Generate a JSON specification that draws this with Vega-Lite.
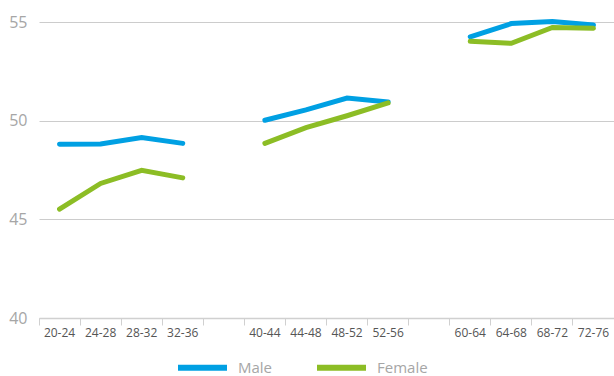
{
  "$schema": "https://vega.github.io/schema/vega-lite/v6.json",
  "width": 575,
  "height": 296,
  "autosize": "none",
  "padding": {"left": 39, "top": 22, "right": 0, "bottom": 58},
  "background": "white",
  "config": {"view": {"stroke": null}, "font": "Open Sans"},
  "data": {"values": [
    {"age": "20-24", "sex": "Male", "group": "a", "v": 48.8},
    {"age": "24-28", "sex": "Male", "group": "a", "v": 48.82},
    {"age": "28-32", "sex": "Male", "group": "a", "v": 49.15},
    {"age": "32-36", "sex": "Male", "group": "a", "v": 48.85},
    {"age": "40-44", "sex": "Male", "group": "b", "v": 50.02},
    {"age": "44-48", "sex": "Male", "group": "b", "v": 50.55},
    {"age": "48-52", "sex": "Male", "group": "b", "v": 51.15},
    {"age": "52-56", "sex": "Male", "group": "b", "v": 50.95},
    {"age": "60-64", "sex": "Male", "group": "c", "v": 54.25},
    {"age": "64-68", "sex": "Male", "group": "c", "v": 54.92},
    {"age": "68-72", "sex": "Male", "group": "c", "v": 55.02},
    {"age": "72-76", "sex": "Male", "group": "c", "v": 54.85},
    {"age": "20-24", "sex": "Female", "group": "a", "v": 45.52},
    {"age": "24-28", "sex": "Female", "group": "a", "v": 46.82},
    {"age": "28-32", "sex": "Female", "group": "a", "v": 47.48},
    {"age": "32-36", "sex": "Female", "group": "a", "v": 47.1},
    {"age": "40-44", "sex": "Female", "group": "b", "v": 48.85},
    {"age": "44-48", "sex": "Female", "group": "b", "v": 49.65},
    {"age": "48-52", "sex": "Female", "group": "b", "v": 50.25},
    {"age": "52-56", "sex": "Female", "group": "b", "v": 50.9},
    {"age": "60-64", "sex": "Female", "group": "c", "v": 54.02},
    {"age": "64-68", "sex": "Female", "group": "c", "v": 53.92},
    {"age": "68-72", "sex": "Female", "group": "c", "v": 54.72},
    {"age": "72-76", "sex": "Female", "group": "c", "v": 54.68}
  ]},
  "mark": {"type": "line", "strokeWidth": 5, "strokeCap": "round"},
  "encoding": {
    "x": {
      "field": "age", "type": "nominal", "bandPosition": 0.5,
      "scale": {"type": "band", "paddingInner": 0, "paddingOuter": 0,
        "domain": ["20-24", "24-28", "28-32", "32-36", "gap1", "40-44", "44-48", "48-52", "52-56", "gap2", "60-64", "64-68", "68-72", "72-76"]},
      "axis": {
        "title": null, "labelAngle": 0, "bandPosition": 0,
        "labelExpr": "indexof(datum.value, 'gap') == 0 ? '' : datum.value",
        "domainColor": "#d0d0d0", "domainWidth": 1.5, "tickColor": "#d0d0d0", "tickSize": 7,
        "labelColor": "#555555", "labelFontSize": 12, "labelPadding": 2, "grid": false
      }
    },
    "y": {
      "field": "v", "type": "quantitative",
      "scale": {"domain": [40, 55], "nice": false, "zero": false},
      "axis": {
        "title": null, "values": [40, 45, 50, 55], "domain": false, "ticks": false,
        "labelColor": "#a6a6a6", "labelFontSize": 16, "labelPadding": 12,
        "gridColor": "#cccccc", "gridWidth": 1
      }
    },
    "color": {
      "field": "sex", "type": "nominal",
      "scale": {"domain": ["Male", "Female"], "range": ["#00a0e3", "#8cbd25"]},
      "legend": {
        "title": null, "orient": "none", "direction": "horizontal",
        "legendX": 136, "legendY": 318,
        "symbolType": "stroke", "symbolSize": 2401, "symbolStrokeWidth": 6,
        "labelColor": "#a6a6a6", "labelFontSize": 15, "labelOffset": 8, "labelBaseline": "middle", "columnPadding": 32
      }
    },
    "detail": {"field": "group"}
  }
}
